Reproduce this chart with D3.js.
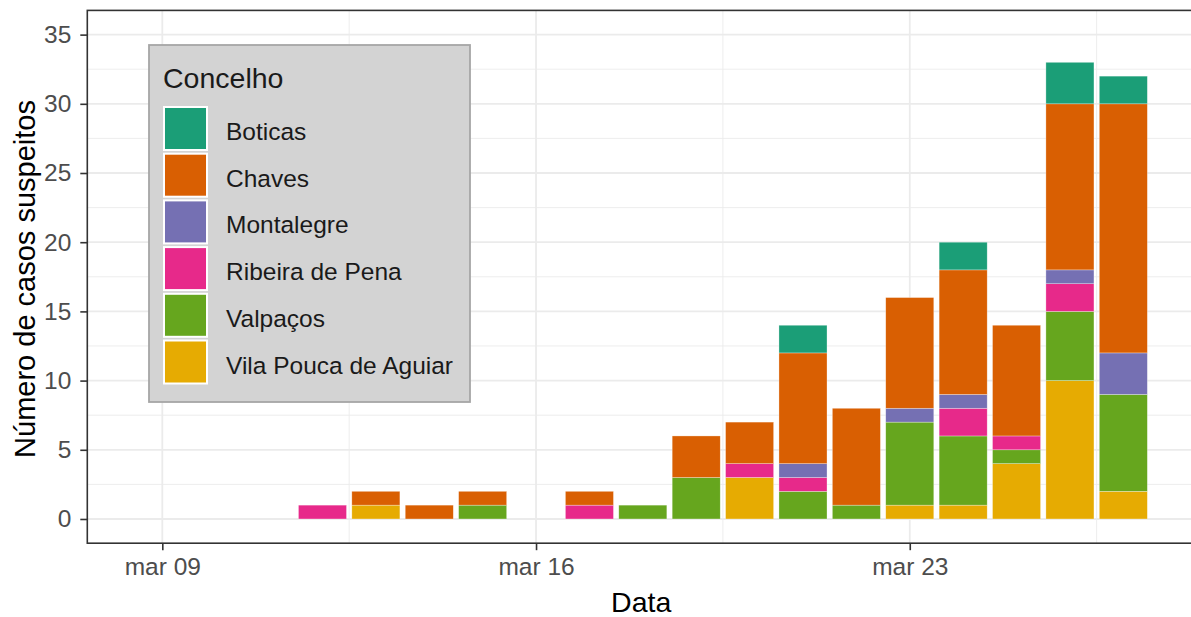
<!DOCTYPE html>
<html>
<head>
<meta charset="utf-8">
<script src="https://cdn.jsdelivr.net/npm/d3@7"></script>
<style>
    html, body { margin: 0; padding: 0; background: #fff; }
    svg { display: block; font-family: "Liberation Sans", Arial, sans-serif; }
</style>
</head>
<body>
<script>
// DATA

var dates = ['2020-03-12', '2020-03-13', '2020-03-14', '2020-03-15', '2020-03-17', '2020-03-18',
    '2020-03-19', '2020-03-20', '2020-03-21', '2020-03-22', '2020-03-23', '2020-03-24',
    '2020-03-25', '2020-03-26', '2020-03-27'];

var concelhos = ['Boticas', 'Chaves', 'Montalegre', 'Ribeira de Pena', 'Valpaços', 'Vila Pouca de Aguiar'];

var boticas       = [0, 0, 0, 0, 0, 0, 0, 0, 2, 0, 0, 2, 0, 3, 2];
var chaves        = [0, 1, 1, 1, 1, 0, 3, 3, 8, 7, 8, 9, 8, 12, 18];
var montalegre    = [0, 0, 0, 0, 0, 0, 0, 0, 1, 0, 1, 1, 0, 1, 3];
var ribeiraDePena = [1, 0, 0, 0, 1, 0, 0, 1, 1, 0, 0, 2, 1, 2, 0];
var valpacos      = [0, 0, 0, 1, 0, 1, 3, 0, 2, 1, 6, 5, 1, 5, 7];
var vilaPouca     = [0, 1, 0, 0, 0, 0, 0, 3, 0, 0, 1, 1, 4, 10, 2];

var xTickDates = ['2020-03-09', '2020-03-16', '2020-03-23'];
var xTickLabels = ['mar 09', 'mar 16', 'mar 23'];
var yTicks = [0, 5, 10, 15, 20, 25, 30, 35];

var colours = ['#1B9E77', '#D95F02', '#7570B3', '#E7298A', '#66A61E', '#E6AB02'];

var CHART = {
    init: function () {
        var self = this;

        self.width = 1191;
        self.height = 617;
        self.day = 86400000;

        // panel
        self.panel = { left: 87.3, top: 10.4, right: 1197, bottom: 543.2 };

        self.svg = d3.select('body').append('svg')
            .attr('width', self.width)
            .attr('height', self.height);

        self.modelData();
        self.draw();
    },
    modelData: function () {
        var self = this,
            series = [boticas, chaves, montalegre, ribeiraDePena, valpacos, vilaPouca];

        self.rows = dates.map(function (d, i) {
            var row = { date: new Date(d + 'T00:00:00Z') };
            concelhos.forEach(function (c, j) {
                row[c] = series[j][i];
            });
            return row;
        });

        // ggplot stacks the first level on top
        self.stack = d3.stack().keys(concelhos.slice().reverse())(self.rows);
    },
    draw: function () {
        var self = this,
            p = self.panel,
            svg = self.svg,
            t0 = Date.UTC(2020, 2, 9),
            x, y, colour, xAxis, yAxis, g, legend;

        x = d3.scaleUtc()
            .domain([new Date(t0 - 1.405 * self.day), new Date(t0 + 19.38 * self.day)])
            .range([p.left, p.right]);

        y = d3.scaleLinear()
            .domain([-1.75, 36.75])
            .range([p.bottom, p.top]);

        colour = d3.scaleOrdinal().domain(concelhos).range(colours);

        // grid
        var grid = svg.append('g').attr('class', 'grid');
        var minorY = d3.range(2.5, 36.75, 5);
        var minorX = [5.5, 12.5, 19.5, 26.5].map(function (k) { return new Date(Date.UTC(2020, 2, 1) + (k - 1) * self.day); })
            .filter(function (d) { return x(d) > p.left && x(d) < p.right; });

        grid.selectAll('line.minor-y').data(minorY).enter().append('line')
            .attr('x1', p.left).attr('x2', p.right)
            .attr('y1', function (d) { return y(d); }).attr('y2', function (d) { return y(d); })
            .attr('stroke', '#ebebeb').attr('stroke-width', 0.9);

        grid.selectAll('line.minor-x').data(minorX).enter().append('line')
            .attr('y1', p.top).attr('y2', p.bottom)
            .attr('x1', function (d) { return x(d); }).attr('x2', function (d) { return x(d); })
            .attr('stroke', '#ebebeb').attr('stroke-width', 0.9);

        grid.selectAll('line.major-y').data(yTicks).enter().append('line')
            .attr('x1', p.left).attr('x2', p.right)
            .attr('y1', function (d) { return y(d); }).attr('y2', function (d) { return y(d); })
            .attr('stroke', '#ebebeb').attr('stroke-width', 1.8);

        grid.selectAll('line.major-x').data(xTickDates).enter().append('line')
            .attr('y1', p.top).attr('y2', p.bottom)
            .attr('x1', function (d) { return x(new Date(d + 'T00:00:00Z')); })
            .attr('x2', function (d) { return x(new Date(d + 'T00:00:00Z')); })
            .attr('stroke', '#ebebeb').attr('stroke-width', 1.8);

        // bars
        g = svg.append('g').attr('class', 'bars');
        g.selectAll('g').data(self.stack).enter().append('g')
            .attr('fill', function (s) { return colour(s.key); })
            .selectAll('rect')
            .data(function (s) { return s.filter(function (d) { return d[1] > d[0]; }); })
            .enter().append('rect')
            .attr('x', function (d) { return x(new Date(+d.data.date - 0.45 * self.day)); })
            .attr('width', function (d) { return x(new Date(+d.data.date + 0.45 * self.day)) - x(new Date(+d.data.date - 0.45 * self.day)); })
            .attr('y', function (d) { return y(d[1]); })
            .attr('height', function (d) { return y(d[0]) - y(d[1]); })
            .attr('stroke', '#ffffff')
            .attr('stroke-opacity', 0.5)
            .attr('stroke-width', 0.6);

        // panel border
        svg.append('rect')
            .attr('x', p.left).attr('y', p.top)
            .attr('width', p.right - p.left).attr('height', p.bottom - p.top)
            .attr('fill', 'none').attr('stroke', '#333333').attr('stroke-width', 1.6);

        // axes
        xAxis = d3.axisBottom(x)
            .tickValues(xTickDates.map(function (d) { return new Date(d + 'T00:00:00Z'); }))
            .tickFormat(function (d, i) { return xTickLabels[i]; })
            .tickSize(7)
            .tickPadding(7);

        yAxis = d3.axisLeft(y)
            .tickValues(yTicks)
            .tickSize(7)
            .tickPadding(9);

        var gx = svg.append('g').attr('transform', 'translate(0,' + p.bottom + ')').call(xAxis);
        var gy = svg.append('g').attr('transform', 'translate(' + p.left + ',0)').call(yAxis);

        [gx, gy].forEach(function (a) {
            a.select('.domain').remove();
            a.selectAll('.tick line').attr('stroke', '#333333').attr('stroke-width', 1.6);
            a.selectAll('.tick text')
                .attr('fill', '#4d4d4d')
                .style('font-size', '24.5px')
                .style('font-family', '"Liberation Sans", Arial, sans-serif');
        });

        // axis titles
        svg.append('text')
            .attr('x', (p.left + p.right) / 2 - 1)
            .attr('y', 612)
            .attr('text-anchor', 'middle')
            .style('font-size', '28.5px')
            .text('Data');

        svg.append('text')
            .attr('transform', 'translate(35,279) rotate(-90)')
            .attr('text-anchor', 'middle')
            .style('font-size', '29px')
            .text('Número de casos suspeitos');

        // legend
        legend = svg.append('g').attr('class', 'legend');
        legend.append('rect')
            .attr('x', 149).attr('y', 45)
            .attr('width', 321).attr('height', 357)
            .attr('fill', '#d3d3d3')
            .attr('stroke', '#a6a6a6')
            .attr('stroke-width', 1.8);

        legend.append('text')
            .attr('x', 163).attr('y', 88)
            .style('font-size', '28.5px')
            .attr('fill', '#1a1a1a')
            .text('Concelho');

        var keys = legend.selectAll('g.key').data(concelhos).enter().append('g')
            .attr('class', 'key')
            .attr('transform', function (d, i) { return 'translate(164,' + (107 + i * 46.7) + ')'; });

        keys.append('rect')
            .attr('width', 43).attr('height', 43)
            .attr('fill', function (d) { return colour(d); })
            .attr('stroke', '#ffffff')
            .attr('stroke-width', 2);

        keys.append('text')
            .attr('x', 62).attr('y', 33)
            .style('font-size', '24.5px')
            .attr('fill', '#1a1a1a')
            .text(function (d) { return d; });
    }
};

CHART.init();
</script>
</body>
</html>
